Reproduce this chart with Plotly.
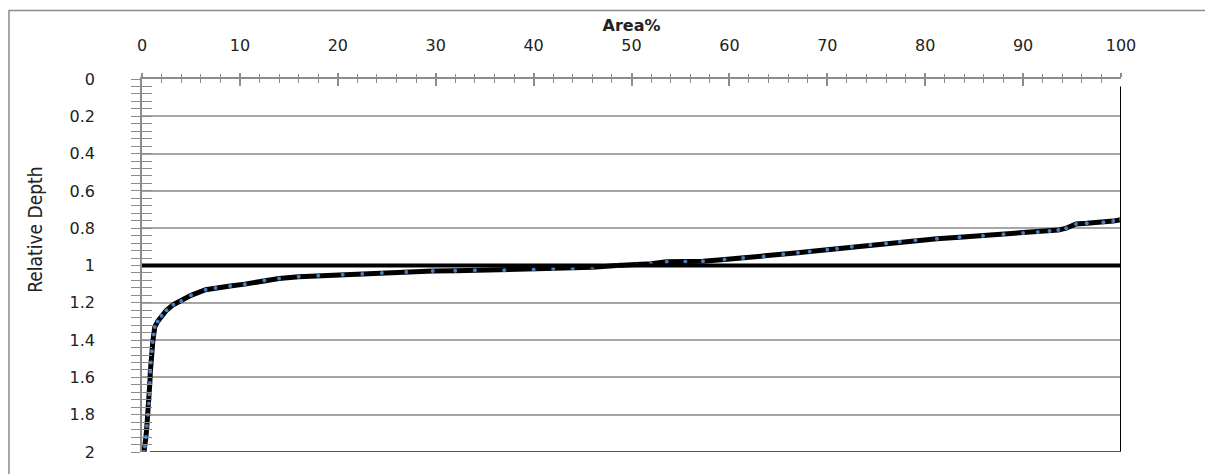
import plotly.graph_objects as go

# Cumulative area (%) against relative depth
area_pct = [0.2, 0.3, 0.4, 0.5, 0.6, 0.7, 0.75, 0.8, 0.85, 0.9, 1.0, 1.1, 1.2, 1.3,
            1.6, 2.0, 2.5, 3.2, 4.0, 5.0, 6.5, 7.5, 9.0, 10.5, 12.5, 14.0, 16.0, 18.0,
            20.5, 22.5, 24.5, 27.0, 29.7, 32.0, 34.0, 37.0, 40.0, 42.0, 44.0, 46.0,
            48.5, 50.5, 52.0, 53.6, 55.5, 57.3, 59.5, 61.4, 63.5, 65.5, 67.0, 68.2,
            70.0, 71.0, 72.5, 74.4, 76.0, 77.4, 79.0, 81.2, 83.5, 85.9, 88.0, 90.0,
            91.5, 92.7, 93.6, 94.4, 95.4, 96.5, 98.2, 99.2, 100.0]
rel_depth = [2.0, 1.97, 1.92, 1.86, 1.80, 1.74, 1.69, 1.63, 1.57, 1.52, 1.46, 1.41, 1.37, 1.33,
             1.30, 1.27, 1.24, 1.21, 1.19, 1.16, 1.13, 1.12, 1.11, 1.10, 1.08, 1.07, 1.06, 1.055,
             1.05, 1.045, 1.04, 1.035, 1.03, 1.028, 1.025, 1.025, 1.022, 1.018, 1.015, 1.01,
             1.0, 0.998, 0.99, 0.98, 0.978, 0.977, 0.968, 0.96, 0.952, 0.94, 0.932, 0.925,
             0.915, 0.91, 0.9, 0.89, 0.882, 0.873, 0.865, 0.856, 0.848, 0.84, 0.833, 0.826,
             0.82, 0.815, 0.81, 0.80, 0.777, 0.774, 0.768, 0.762, 0.754]

x_ticks = list(range(0, 101, 10))
y_ticks = [0, 0.2, 0.4, 0.6, 0.8, 1, 1.2, 1.4, 1.6, 1.8, 2]
y_tick_text = ["0", "0.2", "0.4", "0.6", "0.8", "1", "1.2", "1.4", "1.6", "1.8", "2"]

ref_depth = 1.0          # horizontal reference depth
ref_area = 100           # vertical boundary at full area
ref_area_top = 0.04

TICK_FONT = dict(family="DejaVu Sans", size=16, color="#222222")
GRID = "#a6a6a6"
AXIS = "#8c8c8c"

fig = go.Figure()

fig.add_trace(go.Scatter(
    x=area_pct, y=rel_depth, mode="lines+markers",
    line=dict(color="black", width=5),
    marker=dict(size=4, color="#4a7ebb", line=dict(width=0)),
    showlegend=False, hoverinfo="x+y",
))

# invisible trace to activate the overlay axes carrying the inner tick halves
fig.add_trace(go.Scatter(x=[0], y=[0], xaxis="x2", yaxis="y2", mode="markers",
                         marker=dict(opacity=0), showlegend=False, hoverinfo="skip"))

fig.update_layout(
    width=1205, height=474,
    margin=dict(l=142, r=84, t=79, b=19),
    paper_bgcolor="white", plot_bgcolor="white",
    xaxis=dict(
        side="top", range=[0, 100], tickvals=x_ticks, ticks="outside", ticklen=4,
        tickcolor=AXIS, tickwidth=1.5,
        minor=dict(dtick=2, ticks="outside", ticklen=3, tickcolor=AXIS, tickwidth=1.2),
        showline=True, linecolor=AXIS, linewidth=1.5, showgrid=False, zeroline=False,
        tickfont=TICK_FONT, ticklabelstandoff=16,
        title=dict(text="<b>Area%</b>", font=dict(family="DejaVu Sans", size=16, color="#222222"),
                   standoff=0),
    ),
    xaxis2=dict(
        overlaying="x", side="top", anchor="y2", range=[0, 100], tickvals=x_ticks,
        ticks="inside", ticklen=7, tickcolor=AXIS, tickwidth=1.5,
        minor=dict(dtick=2, ticks="inside", ticklen=4, tickcolor=AXIS, tickwidth=1.2),
        showticklabels=False, showline=False, showgrid=False, zeroline=False,
    ),
    yaxis=dict(
        range=[2, 0], tickvals=y_ticks, ticktext=y_tick_text, ticks="outside", ticklen=9,
        tickcolor=AXIS, tickwidth=1.2,
        minor=dict(dtick=0.04, tick0=0, ticks="outside", ticklen=9, tickcolor=AXIS, tickwidth=1.2),
        showline=True, linecolor=AXIS, linewidth=1.5, showgrid=True, gridcolor=GRID,
        gridwidth=1.5, zeroline=False, tickfont=TICK_FONT, ticklabelstandoff=33,
    ),
    yaxis2=dict(
        overlaying="y", side="left", anchor="x2", range=[2, 0], tickvals=y_ticks,
        ticks="inside", ticklen=10, tickcolor=AXIS, tickwidth=1.2,
        minor=dict(dtick=0.04, tick0=0, ticks="inside", ticklen=10, tickcolor=AXIS, tickwidth=1.2),
        showticklabels=False, showline=False, showgrid=False, zeroline=False,
    ),
)

# vertical axis title, placed slightly above the plot's mid-height
fig.add_annotation(
    text="Relative Depth", textangle=-90, showarrow=False,
    xref="paper", yref="paper", x=-0.1093, y=0.5957, xanchor="center", yanchor="middle",
    font=dict(family="DejaVu Sans Condensed, Liberation Sans, sans-serif", size=19,
              color="#222222"),
)

shapes = [
    # reference depth
    dict(type="line", xref="x", yref="y", x0=0, x1=100, y0=ref_depth, y1=ref_depth,
         line=dict(color="black", width=4), layer="above"),
    # right boundary at 100 % area
    dict(type="line", xref="x", yref="y", x0=ref_area, x1=ref_area, y0=ref_area_top, y1=2,
         line=dict(color="black", width=2), layer="above"),
    # bottom frame of the plot area
    dict(type="line", xref="x", yref="y", x0=0.8, x1=100, y0=2, y1=2,
         line=dict(color="#555555", width=2), layer="above"),
    # outer chart border
    dict(type="rect", xref="paper", yref="paper", x0=-0.1359, x1=1.2, y0=-0.2, y1=1.1835,
         line=dict(color="#8c8c8c", width=1.5), fillcolor="rgba(0,0,0,0)", layer="below"),
]
fig.update_layout(shapes=shapes)

fig.write_html("out.html")
